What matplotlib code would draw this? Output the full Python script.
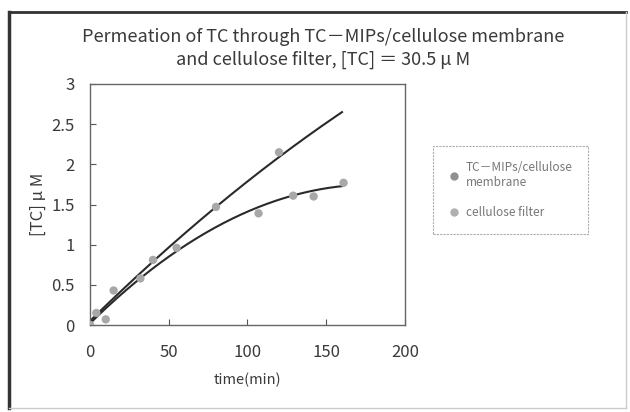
import numpy as np
import matplotlib
matplotlib.use("Agg")
import matplotlib.pyplot as plt
from matplotlib.lines import Line2D

plt.rcParams['font.family'] = ['Noto Sans CJK JP', 'DejaVu Sans']

# Data
t_upper = [0, 4, 15, 40, 80, 120]
y_upper = [0.0, 0.15, 0.43, 0.81, 1.47, 2.15]
t_lower = [0, 10, 32, 55, 107, 129, 142, 161]
y_lower = [0.0, 0.07, 0.58, 0.96, 1.39, 1.61, 1.60, 1.77]
# quadratic trend lines: c0 + c1*t + c2*t^2, drawn over 0..160
trend_upper = [0.05, 0.01925, -1.875e-5]
trend_lower = [0.02, 0.0193, -5.39e-5]
trend_range = [0, 160]

x_ticks = [0, 50, 100, 150, 200]
y_ticks = [0, 0.5, 1, 1.5, 2, 2.5, 3]
y_tick_labels = ['0', '0.5', '1', '1.5', '2', '2.5', '3']
legend_labels = ['TC\uff0dMIPs/cellulose\nmembrane', 'cellulose filter']

fig = plt.figure(figsize=(6.3, 4.12), dpi=100)
W, H = 630, 412

ax = fig.add_axes([90 / W, 1 - 325 / H, 315 / W, 241 / H])
txt = '#3a3a3a'

tt = np.linspace(trend_range[0], trend_range[1], 200)
for c in (trend_upper, trend_lower):
    ax.plot(tt, c[0] + c[1] * tt + c[2] * tt ** 2, color='#2a2a2a', lw=1.5, zorder=2)

ax.scatter(t_upper, y_upper, s=36, color='#a8a8a8', zorder=3, edgecolors='none')
ax.scatter(t_lower, y_lower, s=36, color='#a8a8a8', zorder=3, edgecolors='none')

ax.set_xlim(0, 200)
ax.set_ylim(0, 3)
ax.set_xticks(x_ticks)
ax.set_yticks(y_ticks)
ax.set_yticklabels(y_tick_labels)
ax.tick_params(direction='in', length=4, color='#555555', labelcolor=txt, labelsize=12)
ax.tick_params(axis='y', pad=11)
ax.tick_params(axis='x', pad=14)
for s in ax.spines.values():
    s.set_color('#666666')
    s.set_linewidth(1.0)

ax.set_xlabel('time(min)', fontsize=10.5, color=txt, labelpad=8)
ax.set_ylabel('[TC] \u03bc M', fontsize=12, color=txt, labelpad=3)

fig.text(323 / W, 1 - 37 / H, 'Permeation of TC through TC\uff0dMIPs/cellulose membrane',
         ha='center', va='center', fontsize=13, color=txt)
fig.text(323 / W, 1 - 60 / H, 'and cellulose filter, [TC] \uff1d 30.5 \u03bc M',
         ha='center', va='center', fontsize=13, color=txt)

handles = [Line2D([], [], ls='none', marker='o', ms=5, color='#909090'),
           Line2D([], [], ls='none', marker='o', ms=5, color='#b0b0b0')]
leg = fig.legend(handles, legend_labels, loc='upper left',
                 bbox_to_anchor=(433 / W, 1 - 146 / H), fontsize=8.5,
                 frameon=True, fancybox=False, handletextpad=0.5,
                 labelspacing=1.4, borderpad=1.3, handlelength=1.0,
                 borderaxespad=0, labelcolor='#777777')
fr = leg.get_frame()
fr.set_edgecolor('#999999')
fr.set_linestyle((0, (2, 1)))
fr.set_linewidth(0.8)

# outer chart border
fig.add_artist(Line2D([9 / W, 9 / W], [1 - 12 / H, 1 - 408 / H], color='#333333', lw=2.5))
fig.add_artist(Line2D([9 / W, 626 / W], [1 - 12 / H, 1 - 12 / H], color='#333333', lw=2.0))
fig.add_artist(Line2D([626 / W, 626 / W], [1 - 12 / H, 1 - 408 / H], color='#cccccc', lw=1.0))
fig.add_artist(Line2D([9 / W, 626 / W], [1 - 408 / H, 1 - 408 / H], color='#cccccc', lw=1.0))

fig.savefig('out.png', dpi=100)
